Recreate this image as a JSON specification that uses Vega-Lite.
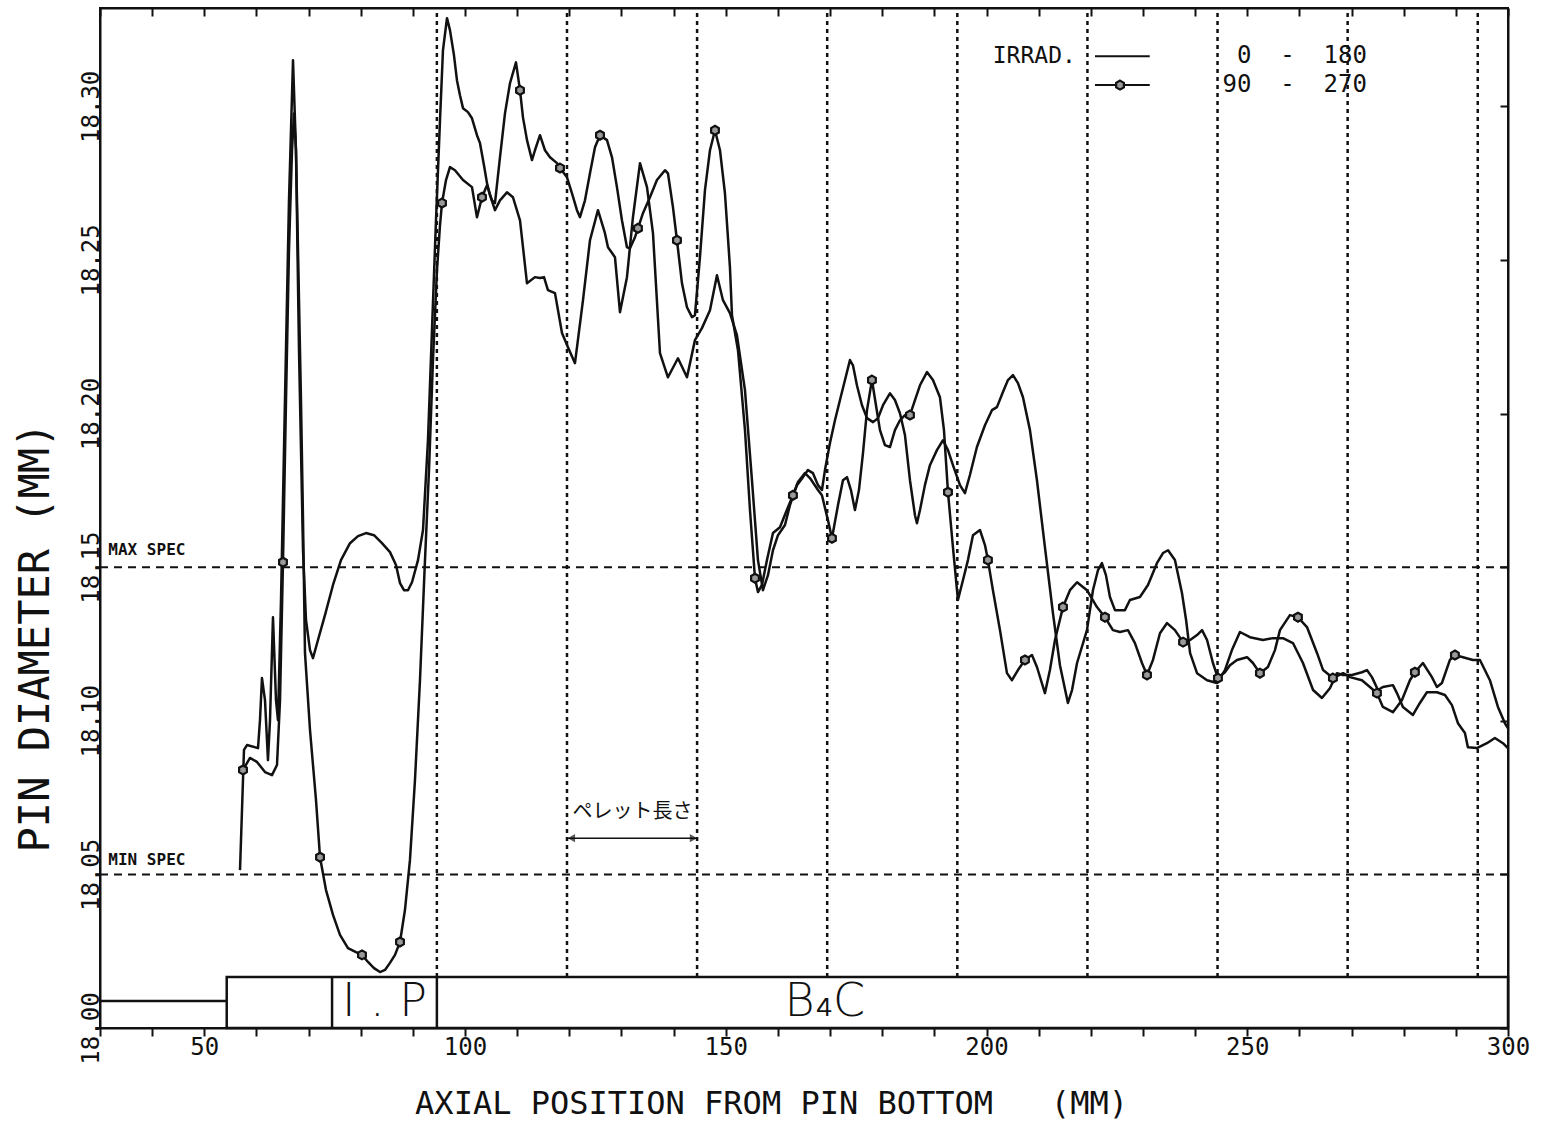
{
"$schema": "https://vega.github.io/schema/vega-lite/v6.json",
"width": 1408, "height": 1020,
"autosize": {"type": "none"},
"padding": {"left": 100, "top": 8, "right": 34, "bottom": 96},
"background": "white",
"config": {
 "view": {"stroke": "#111", "strokeWidth": 2},
 "axis": {"grid": false, "domainColor": "#111", "domainWidth": 2, "tickColor": "#111", "tickWidth": 2, "labelColor": "#111", "titleColor": "#111", "labelFont": "DejaVu Sans Mono", "titleFont": "DejaVu Sans Mono", "titleFontWeight": "normal"}
},
"datasets": {
 "profile": [
{"s":"0-180","x":56.85,"y":18.0514},{"s":"0-180","x":57.61,"y":18.0905},{"s":"0-180","x":58.19,"y":18.0921},{"s":"0-180","x":60.30,"y":18.0911},{"s":"0-180","x":60.68,"y":18.1002},{"s":"0-180","x":61.06,"y":18.1139},{"s":"0-180","x":61.64,"y":18.1067},{"s":"0-180","x":62.21,"y":18.0872},{"s":"0-180","x":62.60,"y":18.1002},{"s":"0-180","x":63.17,"y":18.1337},{"s":"0-180","x":63.75,"y":18.1067},{"s":"0-180","x":64.13,"y":18.1002},{"s":"0-180","x":64.71,"y":18.1393},{"s":"0-180","x":65.47,"y":18.2044},{"s":"0-180","x":66.24,"y":18.2694},{"s":"0-180","x":67.01,"y":18.3150},{"s":"0-180","x":67.58,"y":18.2857},{"s":"0-180","x":68.16,"y":18.2206},{"s":"0-180","x":68.93,"y":18.1555},{"s":"0-180","x":69.50,"y":18.1328},{"s":"0-180","x":70.27,"y":18.1230},{"s":"0-180","x":70.84,"y":18.1204},{"s":"0-180","x":71.80,"y":18.1263},{"s":"0-180","x":73.14,"y":18.1344},{"s":"0-180","x":74.68,"y":18.1442},{"s":"0-180","x":76.21,"y":18.1523},{"s":"0-180","x":77.94,"y":18.1578},{"s":"0-180","x":79.47,"y":18.1601},{"s":"0-180","x":81.01,"y":18.1611},{"s":"0-180","x":82.54,"y":18.1604},{"s":"0-180","x":84.07,"y":18.1578},{"s":"0-180","x":85.61,"y":18.1549},{"s":"0-180","x":86.76,"y":18.1507},{"s":"0-180","x":87.53,"y":18.1448},{"s":"0-180","x":88.29,"y":18.1425},{"s":"0-180","x":89.06,"y":18.1425},{"s":"0-180","x":89.83,"y":18.1451},{"s":"0-180","x":90.98,"y":18.1523},{"s":"0-180","x":91.94,"y":18.1621},{"s":"0-180","x":92.89,"y":18.1913},{"s":"0-180","x":93.66,"y":18.2271},{"s":"0-180","x":94.43,"y":18.2629},{"s":"0-180","x":95.20,"y":18.2955},{"s":"0-180","x":95.77,"y":18.3183},{"s":"0-180","x":96.54,"y":18.3287},{"s":"0-180","x":97.11,"y":18.3248},{"s":"0-180","x":97.88,"y":18.3166},{"s":"0-180","x":98.45,"y":18.3085},{"s":"0-180","x":99.03,"y":18.3036},{"s":"0-180","x":99.61,"y":18.2994},{"s":"0-180","x":100.56,"y":18.2981},{"s":"0-180","x":101.33,"y":18.2961},{"s":"0-180","x":102.29,"y":18.2906},{"s":"0-180","x":102.87,"y":18.2880},{"s":"0-180","x":103.63,"y":18.2808},{"s":"0-180","x":104.21,"y":18.2750},{"s":"0-180","x":104.78,"y":18.2711},{"s":"0-180","x":105.74,"y":18.2662},{"s":"0-180","x":106.70,"y":18.2694},{"s":"0-180","x":108.04,"y":18.2720},{"s":"0-180","x":109.19,"y":18.2704},{"s":"0-180","x":110.54,"y":18.2629},{"s":"0-180","x":111.88,"y":18.2424},{"s":"0-180","x":113.41,"y":18.2444},{"s":"0-180","x":114.37,"y":18.2441},{"s":"0-180","x":115.14,"y":18.2444},{"s":"0-180","x":115.90,"y":18.2402},{"s":"0-180","x":117.25,"y":18.2392},{"s":"0-180","x":118.59,"y":18.2262},{"s":"0-180","x":119.74,"y":18.2216},{"s":"0-180","x":121.08,"y":18.2164},{"s":"0-180","x":122.62,"y":18.2369},{"s":"0-180","x":123.96,"y":18.2564},{"s":"0-180","x":125.49,"y":18.2662},{"s":"0-180","x":126.83,"y":18.2587},{"s":"0-180","x":127.41,"y":18.2541},{"s":"0-180","x":128.75,"y":18.2509},{"s":"0-180","x":129.71,"y":18.2330},{"s":"0-180","x":131.05,"y":18.2444},{"s":"0-180","x":132.20,"y":18.2639},{"s":"0-180","x":133.55,"y":18.2815},{"s":"0-180","x":134.89,"y":18.2737},{"s":"0-180","x":136.04,"y":18.2587},{"s":"0-180","x":137.38,"y":18.2197},{"s":"0-180","x":138.91,"y":18.2118},{"s":"0-180","x":140.83,"y":18.2180},{"s":"0-180","x":142.56,"y":18.2118},{"s":"0-180","x":144.09,"y":18.2239},{"s":"0-180","x":145.43,"y":18.2278},{"s":"0-180","x":146.97,"y":18.2336},{"s":"0-180","x":148.31,"y":18.2450},{"s":"0-180","x":149.46,"y":18.2369},{"s":"0-180","x":150.80,"y":18.2327},{"s":"0-180","x":152.14,"y":18.2255},{"s":"0-180","x":153.68,"y":18.2076},{"s":"0-180","x":155.02,"y":18.1783},{"s":"0-180","x":156.17,"y":18.1523},{"s":"0-180","x":157.13,"y":18.1425},{"s":"0-180","x":158.09,"y":18.1474},{"s":"0-180","x":159.05,"y":18.1555},{"s":"0-180","x":160.01,"y":18.1604},{"s":"0-180","x":161.35,"y":18.1637},{"s":"0-180","x":162.31,"y":18.1702},{"s":"0-180","x":163.65,"y":18.1767},{"s":"0-180","x":164.80,"y":18.1793},{"s":"0-180","x":165.76,"y":18.1816},{"s":"0-180","x":166.72,"y":18.1806},{"s":"0-180","x":167.68,"y":18.1767},{"s":"0-180","x":168.44,"y":18.1751},{"s":"0-180","x":169.02,"y":18.1816},{"s":"0-180","x":169.98,"y":18.1904},{"s":"0-180","x":170.94,"y":18.1978},{"s":"0-180","x":171.90,"y":18.2044},{"s":"0-180","x":172.86,"y":18.2109},{"s":"0-180","x":173.81,"y":18.2174},{"s":"0-180","x":174.39,"y":18.2157},{"s":"0-180","x":175.15,"y":18.2092},{"s":"0-180","x":176.12,"y":18.2027},{"s":"0-180","x":177.08,"y":18.1985},{"s":"0-180","x":178.23,"y":18.1972},{"s":"0-180","x":179.19,"y":18.1985},{"s":"0-180","x":180.15,"y":18.2027},{"s":"0-180","x":181.48,"y":18.2066},{"s":"0-180","x":182.44,"y":18.2044},{"s":"0-180","x":183.40,"y":18.2001},{"s":"0-180","x":184.36,"y":18.1930},{"s":"0-180","x":185.32,"y":18.1783},{"s":"0-180","x":186.28,"y":18.1669},{"s":"0-180","x":186.66,"y":18.1643},{"s":"0-180","x":187.24,"y":18.1686},{"s":"0-180","x":188.19,"y":18.1767},{"s":"0-180","x":189.15,"y":18.1832},{"s":"0-180","x":190.49,"y":18.1881},{"s":"0-180","x":191.65,"y":18.1913},{"s":"0-180","x":192.61,"y":18.1881},{"s":"0-180","x":193.56,"y":18.1832},{"s":"0-180","x":194.91,"y":18.1767},{"s":"0-180","x":195.86,"y":18.1741},{"s":"0-180","x":196.82,"y":18.1800},{"s":"0-180","x":198.16,"y":18.1891},{"s":"0-180","x":199.70,"y":18.1962},{"s":"0-180","x":201.04,"y":18.2011},{"s":"0-180","x":202.00,"y":18.2021},{"s":"0-180","x":203.15,"y":18.2070},{"s":"0-180","x":204.11,"y":18.2109},{"s":"0-180","x":205.07,"y":18.2125},{"s":"0-180","x":206.03,"y":18.2099},{"s":"0-180","x":206.99,"y":18.2053},{"s":"0-180","x":208.33,"y":18.1946},{"s":"0-180","x":209.67,"y":18.1783},{"s":"0-180","x":211.20,"y":18.1565},{"s":"0-180","x":212.74,"y":18.1350},{"s":"0-180","x":214.08,"y":18.1181},{"s":"0-180","x":215.61,"y":18.1058},{"s":"0-180","x":216.40,"y":18.1100},{"s":"0-180","x":217.36,"y":18.1188},{"s":"0-180","x":219.26,"y":18.1295},{"s":"0-180","x":220.41,"y":18.1425},{"s":"0-180","x":221.37,"y":18.1490},{"s":"0-180","x":222.13,"y":18.1513},{"s":"0-180","x":222.90,"y":18.1474},{"s":"0-180","x":223.67,"y":18.1403},{"s":"0-180","x":224.63,"y":18.1360},{"s":"0-180","x":226.54,"y":18.1360},{"s":"0-180","x":227.50,"y":18.1393},{"s":"0-180","x":229.42,"y":18.1403},{"s":"0-180","x":230.96,"y":18.1442},{"s":"0-180","x":232.68,"y":18.1513},{"s":"0-180","x":233.84,"y":18.1546},{"s":"0-180","x":234.81,"y":18.1555},{"s":"0-180","x":236.13,"y":18.1523},{"s":"0-180","x":237.48,"y":18.1416},{"s":"0-180","x":238.27,"y":18.1328},{"s":"0-180","x":239.04,"y":18.1220},{"s":"0-180","x":240.37,"y":18.1155},{"s":"0-180","x":242.29,"y":18.1132},{"s":"0-180","x":244.18,"y":18.1123},{"s":"0-180","x":245.72,"y":18.1165},{"s":"0-180","x":247.06,"y":18.1230},{"s":"0-180","x":248.60,"y":18.1289},{"s":"0-180","x":250.51,"y":18.1272},{"s":"0-180","x":253.01,"y":18.1263},{"s":"0-180","x":254.92,"y":18.1269},{"s":"0-180","x":256.84,"y":18.1269},{"s":"0-180","x":258.76,"y":18.1253},{"s":"0-180","x":260.68,"y":18.1188},{"s":"0-180","x":262.62,"y":18.1100},{"s":"0-180","x":264.32,"y":18.1074},{"s":"0-180","x":265.85,"y":18.1106},{"s":"0-180","x":267.20,"y":18.1155},{"s":"0-180","x":268.37,"y":18.1149},{"s":"0-180","x":270.08,"y":18.1149},{"s":"0-180","x":271.99,"y":18.1158},{"s":"0-180","x":272.95,"y":18.1165},{"s":"0-180","x":273.91,"y":18.1142},{"s":"0-180","x":275.06,"y":18.1100},{"s":"0-180","x":276.01,"y":18.1110},{"s":"0-180","x":277.93,"y":18.1116},{"s":"0-180","x":278.70,"y":18.1090},{"s":"0-180","x":279.85,"y":18.1045},{"s":"0-180","x":281.77,"y":18.1019},{"s":"0-180","x":283.11,"y":18.1058},{"s":"0-180","x":284.45,"y":18.1093},{"s":"0-180","x":286.37,"y":18.1093},{"s":"0-180","x":287.91,"y":18.1084},{"s":"0-180","x":289.25,"y":18.1051},{"s":"0-180","x":290.40,"y":18.0992},{"s":"0-180","x":291.74,"y":18.0960},{"s":"0-180","x":292.31,"y":18.0914},{"s":"0-180","x":294.04,"y":18.0911},{"s":"0-180","x":295.96,"y":18.0927},{"s":"0-180","x":297.49,"y":18.0944},{"s":"0-180","x":299.03,"y":18.0927},{"s":"0-180","x":299.98,"y":18.0911},
{"s":"90-270","x":57.42,"y":18.0840,"m":1},{"s":"90-270","x":58.76,"y":18.0879},{"s":"90-270","x":60.10,"y":18.0866},{"s":"90-270","x":61.64,"y":18.0833},{"s":"90-270","x":62.98,"y":18.0823},{"s":"90-270","x":63.94,"y":18.0856},{"s":"90-270","x":64.52,"y":18.1067},{"s":"90-270","x":65.09,"y":18.1516,"m":1},{"s":"90-270","x":65.67,"y":18.2044},{"s":"90-270","x":66.24,"y":18.2532},{"s":"90-270","x":66.82,"y":18.2857},{"s":"90-270","x":67.20,"y":18.2977},{"s":"90-270","x":67.58,"y":18.2857},{"s":"90-270","x":67.97,"y":18.2532},{"s":"90-270","x":68.54,"y":18.2044},{"s":"90-270","x":68.93,"y":18.1653},{"s":"90-270","x":69.31,"y":18.1220},{"s":"90-270","x":70.27,"y":18.0970},{"s":"90-270","x":71.42,"y":18.0742},{"s":"90-270","x":72.19,"y":18.0556,"m":1},{"s":"90-270","x":73.34,"y":18.0449},{"s":"90-270","x":74.68,"y":18.0368},{"s":"90-270","x":76.02,"y":18.0303},{"s":"90-270","x":77.55,"y":18.0260},{"s":"90-270","x":79.09,"y":18.0247},{"s":"90-270","x":80.24,"y":18.0238,"m":1},{"s":"90-270","x":81.39,"y":18.0215},{"s":"90-270","x":82.54,"y":18.0195},{"s":"90-270","x":83.69,"y":18.0182},{"s":"90-270","x":84.65,"y":18.0189},{"s":"90-270","x":85.61,"y":18.0212},{"s":"90-270","x":86.57,"y":18.0238},{"s":"90-270","x":87.53,"y":18.0280,"m":1},{"s":"90-270","x":88.48,"y":18.0384},{"s":"90-270","x":89.44,"y":18.0547},{"s":"90-270","x":90.40,"y":18.0807},{"s":"90-270","x":91.36,"y":18.1132},{"s":"90-270","x":92.32,"y":18.1523},{"s":"90-270","x":93.09,"y":18.1816},{"s":"90-270","x":93.85,"y":18.2174},{"s":"90-270","x":94.62,"y":18.2467},{"s":"90-270","x":95.20,"y":18.2613},{"s":"90-270","x":95.58,"y":18.2685,"m":1},{"s":"90-270","x":96.35,"y":18.2760},{"s":"90-270","x":97.11,"y":18.2802},{"s":"90-270","x":98.07,"y":18.2792},{"s":"90-270","x":99.61,"y":18.2760},{"s":"90-270","x":101.33,"y":18.2737},{"s":"90-270","x":102.29,"y":18.2639},{"s":"90-270","x":103.25,"y":18.2704,"m":1},{"s":"90-270","x":104.21,"y":18.2743},{"s":"90-270","x":105.17,"y":18.2694},{"s":"90-270","x":105.74,"y":18.2685},{"s":"90-270","x":106.70,"y":18.2834},{"s":"90-270","x":107.66,"y":18.2977},{"s":"90-270","x":108.62,"y":18.3075},{"s":"90-270","x":109.77,"y":18.3143},{"s":"90-270","x":110.54,"y":18.3052,"m":1},{"s":"90-270","x":111.11,"y":18.2964},{"s":"90-270","x":111.88,"y":18.2890},{"s":"90-270","x":112.84,"y":18.2825},{"s":"90-270","x":113.41,"y":18.2857},{"s":"90-270","x":114.37,"y":18.2906},{"s":"90-270","x":115.33,"y":18.2857},{"s":"90-270","x":116.29,"y":18.2834},{"s":"90-270","x":117.63,"y":18.2815},{"s":"90-270","x":118.21,"y":18.2799,"m":1},{"s":"90-270","x":119.55,"y":18.2769},{"s":"90-270","x":120.51,"y":18.2717},{"s":"90-270","x":121.46,"y":18.2662},{"s":"90-270","x":122.04,"y":18.2639},{"s":"90-270","x":123.00,"y":18.2694},{"s":"90-270","x":123.96,"y":18.2782},{"s":"90-270","x":124.92,"y":18.2867},{"s":"90-270","x":125.88,"y":18.2906,"m":1},{"s":"90-270","x":127.22,"y":18.2890},{"s":"90-270","x":128.18,"y":18.2834},{"s":"90-270","x":129.13,"y":18.2737},{"s":"90-270","x":130.09,"y":18.2629},{"s":"90-270","x":131.05,"y":18.2541},{"s":"90-270","x":131.63,"y":18.2538},{"s":"90-270","x":132.59,"y":18.2574},{"s":"90-270","x":133.16,"y":18.2603,"m":1},{"s":"90-270","x":134.12,"y":18.2652},{"s":"90-270","x":135.46,"y":18.2704},{"s":"90-270","x":136.80,"y":18.2760},{"s":"90-270","x":138.34,"y":18.2792},{"s":"90-270","x":138.91,"y":18.2782},{"s":"90-270","x":139.87,"y":18.2672},{"s":"90-270","x":140.64,"y":18.2564,"m":1},{"s":"90-270","x":141.60,"y":18.2424},{"s":"90-270","x":142.56,"y":18.2346},{"s":"90-270","x":143.52,"y":18.2314},{"s":"90-270","x":144.09,"y":18.2320},{"s":"90-270","x":145.05,"y":18.2509},{"s":"90-270","x":146.01,"y":18.2727},{"s":"90-270","x":146.97,"y":18.2857},{"s":"90-270","x":147.93,"y":18.2922,"m":1},{"s":"90-270","x":148.89,"y":18.2857},{"s":"90-270","x":149.84,"y":18.2717},{"s":"90-270","x":150.80,"y":18.2476},{"s":"90-270","x":151.19,"y":18.2320},{"s":"90-270","x":152.34,"y":18.2206},{"s":"90-270","x":153.68,"y":18.1946},{"s":"90-270","x":154.64,"y":18.1686},{"s":"90-270","x":155.60,"y":18.1464,"m":1},{"s":"90-270","x":156.17,"y":18.1419},{"s":"90-270","x":156.94,"y":18.1442},{"s":"90-270","x":157.90,"y":18.1523},{"s":"90-270","x":159.05,"y":18.1611},{"s":"90-270","x":160.39,"y":18.1630},{"s":"90-270","x":161.54,"y":18.1679},{"s":"90-270","x":162.88,"y":18.1734,"m":1},{"s":"90-270","x":163.84,"y":18.1777},{"s":"90-270","x":165.18,"y":18.1806},{"s":"90-270","x":166.14,"y":18.1790},{"s":"90-270","x":167.68,"y":18.1751},{"s":"90-270","x":168.44,"y":18.1734},{"s":"90-270","x":169.59,"y":18.1653},{"s":"90-270","x":170.36,"y":18.1594,"m":1},{"s":"90-270","x":171.52,"y":18.1702},{"s":"90-270","x":172.47,"y":18.1783},{"s":"90-270","x":173.24,"y":18.1793},{"s":"90-270","x":174.00,"y":18.1751},{"s":"90-270","x":174.77,"y":18.1686},{"s":"90-270","x":175.54,"y":18.1751},{"s":"90-270","x":176.31,"y":18.1871},{"s":"90-270","x":177.08,"y":18.2011},{"s":"90-270","x":178.03,"y":18.2109,"m":1},{"s":"90-270","x":178.80,"y":18.2027},{"s":"90-270","x":179.57,"y":18.1946},{"s":"90-270","x":180.52,"y":18.1897},{"s":"90-270","x":181.48,"y":18.1891},{"s":"90-270","x":182.44,"y":18.1946},{"s":"90-270","x":183.40,"y":18.1978},{"s":"90-270","x":184.36,"y":18.1995},{"s":"90-270","x":185.32,"y":18.1995,"m":1},{"s":"90-270","x":186.28,"y":18.2044},{"s":"90-270","x":187.24,"y":18.2092},{"s":"90-270","x":188.58,"y":18.2135},{"s":"90-270","x":189.73,"y":18.2109},{"s":"90-270","x":191.07,"y":18.2053},{"s":"90-270","x":191.84,"y":18.1946},{"s":"90-270","x":192.61,"y":18.1744,"m":1},{"s":"90-270","x":193.56,"y":18.1565},{"s":"90-270","x":194.52,"y":18.1393},{"s":"90-270","x":195.49,"y":18.1458},{"s":"90-270","x":196.44,"y":18.1523},{"s":"90-270","x":197.40,"y":18.1604},{"s":"90-270","x":198.74,"y":18.1621},{"s":"90-270","x":199.70,"y":18.1572},{"s":"90-270","x":200.27,"y":18.1523,"m":1},{"s":"90-270","x":201.23,"y":18.1425},{"s":"90-270","x":202.58,"y":18.1295},{"s":"90-270","x":203.92,"y":18.1155},{"s":"90-270","x":204.88,"y":18.1132},{"s":"90-270","x":206.03,"y":18.1165},{"s":"90-270","x":207.37,"y":18.1198,"m":1},{"s":"90-270","x":208.71,"y":18.1214},{"s":"90-270","x":209.67,"y":18.1175},{"s":"90-270","x":211.20,"y":18.1090},{"s":"90-270","x":212.16,"y":18.1165},{"s":"90-270","x":213.13,"y":18.1263},{"s":"90-270","x":214.66,"y":18.1370,"m":1},{"s":"90-270","x":216.00,"y":18.1425},{"s":"90-270","x":217.36,"y":18.1451},{"s":"90-270","x":219.26,"y":18.1425},{"s":"90-270","x":221.18,"y":18.1370},{"s":"90-270","x":222.71,"y":18.1337,"m":1},{"s":"90-270","x":224.24,"y":18.1295},{"s":"90-270","x":225.59,"y":18.1289},{"s":"90-270","x":227.12,"y":18.1295},{"s":"90-270","x":228.46,"y":18.1253},{"s":"90-270","x":229.81,"y":18.1188},{"s":"90-270","x":230.77,"y":18.1149,"m":1},{"s":"90-270","x":231.92,"y":18.1198},{"s":"90-270","x":233.26,"y":18.1285},{"s":"90-270","x":234.62,"y":18.1318},{"s":"90-270","x":236.13,"y":18.1295},{"s":"90-270","x":237.69,"y":18.1256,"m":1},{"s":"90-270","x":239.04,"y":18.1263},{"s":"90-270","x":240.37,"y":18.1279},{"s":"90-270","x":241.33,"y":18.1295},{"s":"90-270","x":242.29,"y":18.1263},{"s":"90-270","x":243.42,"y":18.1188},{"s":"90-270","x":244.38,"y":18.1139,"m":1},{"s":"90-270","x":245.72,"y":18.1158},{"s":"90-270","x":246.68,"y":18.1181},{"s":"90-270","x":248.02,"y":18.1198},{"s":"90-270","x":249.96,"y":18.1207},{"s":"90-270","x":251.09,"y":18.1188},{"s":"90-270","x":252.43,"y":18.1155,"m":1},{"s":"90-270","x":253.96,"y":18.1175},{"s":"90-270","x":255.31,"y":18.1230},{"s":"90-270","x":256.27,"y":18.1295},{"s":"90-270","x":258.18,"y":18.1344},{"s":"90-270","x":259.72,"y":18.1337,"m":1},{"s":"90-270","x":261.45,"y":18.1305},{"s":"90-270","x":263.39,"y":18.1220},{"s":"90-270","x":264.54,"y":18.1165},{"s":"90-270","x":266.43,"y":18.1139,"m":1},{"s":"90-270","x":268.37,"y":18.1155},{"s":"90-270","x":269.69,"y":18.1142},{"s":"90-270","x":271.99,"y":18.1132},{"s":"90-270","x":273.52,"y":18.1110},{"s":"90-270","x":274.87,"y":18.1090,"m":1},{"s":"90-270","x":276.01,"y":18.1045},{"s":"90-270","x":277.93,"y":18.1028},{"s":"90-270","x":279.65,"y":18.1067},{"s":"90-270","x":281.19,"y":18.1132},{"s":"90-270","x":282.15,"y":18.1158,"m":1},{"s":"90-270","x":283.68,"y":18.1188},{"s":"90-270","x":285.41,"y":18.1142},{"s":"90-270","x":286.37,"y":18.1110},{"s":"90-270","x":287.33,"y":18.1123},{"s":"90-270","x":288.86,"y":18.1198},{"s":"90-270","x":289.82,"y":18.1214,"m":1},{"s":"90-270","x":291.36,"y":18.1207},{"s":"90-270","x":293.27,"y":18.1198},{"s":"90-270","x":294.62,"y":18.1198},{"s":"90-270","x":296.53,"y":18.1132},{"s":"90-270","x":298.07,"y":18.1045},{"s":"90-270","x":299.41,"y":18.0992},{"s":"90-270","x":299.98,"y":18.0976}
 ],
 "spec": [{"label": "MAX SPEC", "y": 18.15, "ty": 18.1555}, {"label": "MIN SPEC", "y": 18.05, "ty": 18.0547}],
 "pellets": [{"x": 94.6}, {"x": 119.55}, {"x": 144.5}, {"x": 169.45}, {"x": 194.4}, {"x": 219.35}, {"x": 244.3}, {"x": 269.25}, {"x": 294.2}],
 "segments": [
  {"part": "lead", "x": 30, "x2": 54.3, "y": 18.0088, "y2": 18.0088},
  {"part": "ip-left", "x": 74.5, "x2": 74.5, "y": 18.0, "y2": 18.0166},
  {"part": "ip-right", "x": 94.6, "x2": 94.6, "y": 18.0, "y2": 18.0166}
 ],
 "box": [{"x": 54.3, "x2": 300, "y": 18.0, "y2": 18.0166}],
 "zones": [{"t": "I . P", "x": 84.55, "y": 18.0085}, {"t": "B\u2084C", "x": 169.0, "y": 18.0085}],
 "arrow": [{"x": 119.55, "x2": 144.67, "y": 18.0618}],
 "heads": [{"end": "L", "x": 120.4, "y": 18.0618}, {"end": "R", "x": 143.8, "y": 18.0618}],
 "pelletText": [{"t": "ペレット長さ", "x": 132.1, "y": 18.0703}],
 "legendLines": [{"s": "0-180", "x": 220.8, "x2": 231.3, "y": 18.3163}, {"s": "90-270", "x": 220.8, "x2": 231.3, "y": 18.3069}],
 "legendMarker": [{"x": 225.6, "y": 18.3069}],
 "legendText": [{"t": "0 \u00a0- \u00a0180", "y": 18.3163}, {"t": "90 \u00a0- \u00a0270", "y": 18.3069}],
 "legendTitle": [{"t": "IRRAD.", "x": 201.2, "y": 18.3163}],
 "corner": [{"x": 30, "y": 18.0}]
},
"layer": [
 {
  "data": {"name": "pellets"},
  "mark": {"type": "rule", "color": "#111", "strokeWidth": 2.5, "strokeDash": [4, 4]},
  "encoding": {
   "x": {"field": "x", "type": "quantitative", "scale": {"domain": [30, 300], "nice": false, "zero": false}, "axis": null},
   "y": {"datum": 18.0166, "type": "quantitative", "scale": {"domain": [18.0, 18.332], "nice": false, "zero": false}, "axis": null},
   "y2": {"datum": 18.332}
  }
 },
 {
  "data": {"name": "spec"},
  "mark": {"type": "rule", "color": "#111", "strokeWidth": 2, "strokeDash": [8, 6]},
  "encoding": {
   "y": {"field": "y", "type": "quantitative", "scale": {"domain": [18.0, 18.332], "nice": false, "zero": false}, "axis": null}
  }
 },
 {
  "data": {"name": "spec"},
  "mark": {"type": "text", "align": "left", "baseline": "middle", "font": "DejaVu Sans Mono", "fontWeight": "bold", "fontSize": 16, "color": "#111"},
  "encoding": {
   "x": {"datum": 31.6, "type": "quantitative", "axis": null},
   "y": {"field": "ty", "type": "quantitative", "axis": null},
   "text": {"field": "label"}
  }
 },
 {
  "data": {"name": "box"},
  "mark": {"type": "rect", "fill": "white", "fillOpacity": 0, "stroke": "#111", "strokeWidth": 2.5},
  "encoding": {
   "x": {"field": "x", "type": "quantitative", "axis": null},
   "x2": {"field": "x2"},
   "y": {"field": "y", "type": "quantitative", "axis": null},
   "y2": {"field": "y2"}
  }
 },
 {
  "data": {"name": "segments"},
  "mark": {"type": "rule", "color": "#111", "strokeWidth": 2.5},
  "encoding": {
   "x": {"field": "x", "type": "quantitative", "axis": null},
   "x2": {"field": "x2"},
   "y": {"field": "y", "type": "quantitative", "axis": null},
   "y2": {"field": "y2"}
  }
 },
 {
  "data": {"name": "zones"},
  "mark": {"type": "text", "align": "center", "baseline": "middle", "font": "DejaVu Sans", "fontWeight": 200, "fontSize": 46, "color": "#111"},
  "encoding": {
   "x": {"field": "x", "type": "quantitative", "axis": null},
   "y": {"field": "y", "type": "quantitative", "axis": null},
   "text": {"field": "t"}
  }
 },
 {
  "data": {"name": "arrow"},
  "mark": {"type": "rule", "color": "#111", "strokeWidth": 1.5},
  "encoding": {
   "x": {"field": "x", "type": "quantitative", "axis": null},
   "x2": {"field": "x2"},
   "y": {"field": "y", "type": "quantitative", "axis": null}
  }
 },
 {
  "data": {"name": "heads"},
  "mark": {"type": "point", "filled": true, "color": "#111", "size": 70},
  "encoding": {
   "x": {"field": "x", "type": "quantitative", "axis": null},
   "y": {"field": "y", "type": "quantitative", "axis": null},
   "shape": {"field": "end", "type": "nominal", "scale": {"domain": ["L", "R"], "range": ["triangle-left", "triangle-right"]}, "legend": null}
  }
 },
 {
  "data": {"name": "pelletText"},
  "mark": {"type": "text", "align": "center", "baseline": "middle", "font": "Noto Sans CJK JP", "fontSize": 20, "color": "#111"},
  "encoding": {
   "x": {"field": "x", "type": "quantitative", "axis": null},
   "y": {"field": "y", "type": "quantitative", "axis": null},
   "text": {"field": "t"}
  }
 },
 {
  "data": {"name": "profile"},
  "mark": {"type": "line", "color": "#111", "strokeWidth": 2.5, "strokeJoin": "round"},
  "encoding": {
   "x": {"field": "x", "type": "quantitative", "scale": {"domain": [30, 300], "nice": false, "zero": false},
    "axis": {"orient": "bottom", "values": [30,40,50,60,70,80,90,100,110,120,130,140,150,160,170,180,190,200,210,220,230,240,250,260,270,280,290,300],
     "labelExpr": "datum.value % 50 === 0 ? datum.label : ''", "format": "d", "tickSize": 8, "labelPadding": -1, "labelFontSize": 24, "labelFlush": false, "labelOverlap": false, "labelBound": false,
     "title": "AXIAL POSITION FROM PIN BOTTOM \u00a0 (MM)", "titleFontSize": 32, "titleX": 671, "titleY": 75, "titleAlign": "center", "titleBaseline": "middle", "titleAnchor": null}},
   "y": {"field": "y", "type": "quantitative", "scale": {"domain": [18.0, 18.332], "nice": false, "zero": false},
    "axis": {"orient": "left", "values": [18.0, 18.05, 18.1, 18.15, 18.2, 18.25, 18.3], "format": ".2f", "labelAngle": -90, "labelAlign": "center", "labelBaseline": "alphabetic", "tickSize": 5, "labelPadding": -3, "labelFontSize": 24, "labelOverlap": false, "labelBound": false,
     "title": "PIN DIAMETER (MM)", "titleFontSize": 42, "titleAngle": -90, "titleX": -65, "titleY": 629, "titleAlign": "center", "titleBaseline": "middle", "titleAnchor": null}},
   "detail": {"field": "s", "type": "nominal"}
  }
 },
 {
  "data": {"name": "profile"},
  "transform": [{"filter": "datum.m === 1"}],
  "mark": {"type": "point", "shape": "M0,-1L0.866,-0.5L0.866,0.5L0,1L-0.866,0.5L-0.866,-0.5Z", "filled": true, "fill": "#9a9a9a", "stroke": "#111", "strokeWidth": 2.2, "size": 80, "opacity": 1},
  "encoding": {
   "x": {"field": "x", "type": "quantitative", "axis": null},
   "y": {"field": "y", "type": "quantitative", "axis": null}
  }
 },
 {
  "data": {"name": "legendLines"},
  "mark": {"type": "rule", "color": "#111", "strokeWidth": 2},
  "encoding": {
   "x": {"field": "x", "type": "quantitative", "axis": null},
   "x2": {"field": "x2"},
   "y": {"field": "y", "type": "quantitative", "axis": null}
  }
 },
 {
  "data": {"name": "legendMarker"},
  "mark": {"type": "point", "shape": "M0,-1L0.866,-0.5L0.866,0.5L0,1L-0.866,0.5L-0.866,-0.5Z", "filled": true, "fill": "#9a9a9a", "stroke": "#111", "strokeWidth": 2.2, "size": 80, "opacity": 1},
  "encoding": {
   "x": {"field": "x", "type": "quantitative", "axis": null},
   "y": {"field": "y", "type": "quantitative", "axis": null}
  }
 },
 {
  "data": {"name": "legendTitle"},
  "mark": {"type": "text", "align": "left", "baseline": "middle", "font": "DejaVu Sans Mono", "fontSize": 23, "color": "#111"},
  "encoding": {
   "x": {"field": "x", "type": "quantitative", "axis": null},
   "y": {"field": "y", "type": "quantitative", "axis": null},
   "text": {"field": "t"}
  }
 },
 {
  "data": {"name": "legendText"},
  "mark": {"type": "text", "align": "right", "baseline": "middle", "font": "DejaVu Sans Mono", "fontSize": 24, "color": "#111"},
  "encoding": {
   "x": {"datum": 272.95, "type": "quantitative", "axis": null},
   "y": {"field": "y", "type": "quantitative", "axis": null},
   "text": {"field": "t"}
  }
 },
 {
  "data": {"name": "corner"},
  "mark": {"type": "point", "opacity": 0},
  "encoding": {
   "x": {"field": "x", "type": "quantitative", "axis": {"orient": "top", "values": [30,40,50,60,70,80,90,100,110,120,130,140,150,160,170,180,190,200,210,220,230,240,250,260,270,280,290,300], "labels": false, "tickSize": -8, "title": null}},
   "y": {"field": "y", "type": "quantitative", "axis": {"orient": "right", "values": [18.0, 18.05, 18.1, 18.15, 18.2, 18.25, 18.3], "labels": false, "tickSize": -8, "title": null}}
  }
 }
],
"resolve": {"axis": {"x": "independent", "y": "independent"}}
}
